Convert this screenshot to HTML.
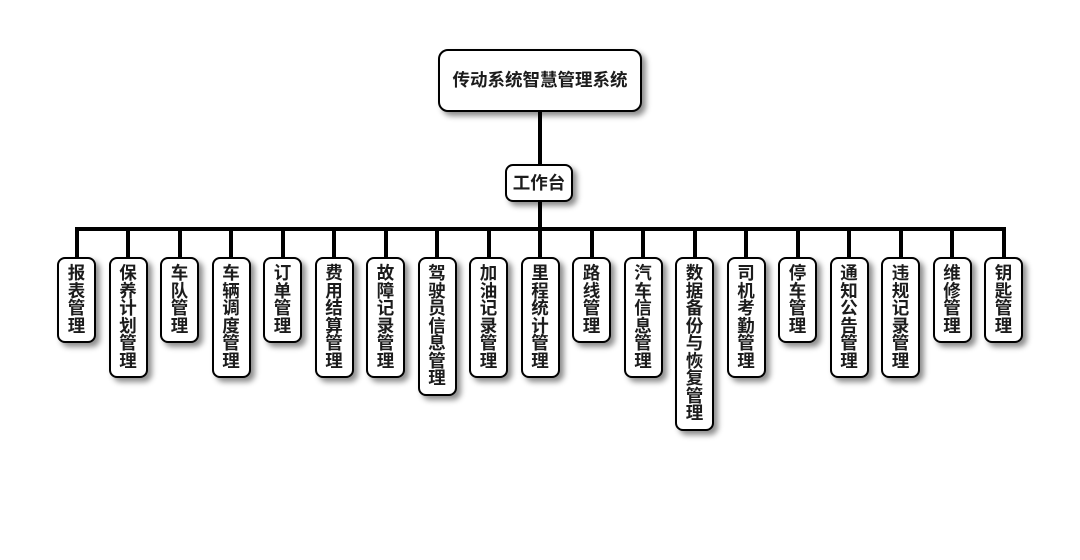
<!DOCTYPE html>
<html>
<head>
<meta charset="utf-8">
<style>
  html, body { margin:0; padding:0; background:#fff; }
  body { width:1080px; height:560px; position:relative; overflow:hidden;
         font-family:"Liberation Sans","Noto Sans CJK SC","WenQuanYi Zen Hei",sans-serif; }
  .ln { position:absolute; background:#000; }
  .box { position:absolute; box-sizing:border-box; border:2px solid #000; background:#fff;
         box-shadow:4px 4px 6px rgba(0,0,0,0.45); color:#1c1c1c; font-weight:bold;
         text-align:center; }
  .top { left:438px; top:49px; width:204px; height:63px; border-radius:10px;
         font-size:17.5px; line-height:59px; }
  .mid { left:505px; top:164px; width:68px; height:38px; border-radius:8px;
         font-size:17.5px; line-height:34px; }
  .leaf { top:257px; width:39px; border-radius:8px; font-size:17.5px; line-height:17.5px;
          padding:6px 0; }
</style>
</head>
<body>
<div class="ln" style="left:538px;top:110px;width:4px;height:56px;"></div>
<div class="ln" style="left:538px;top:200px;width:4px;height:30px;"></div>
<div class="ln" style="left:74.5px;top:227px;width:931px;height:4px;"></div>

<div class="box top">传动系统智慧管理系统</div>
<div class="box mid">工作台</div>

<div id="leaves"></div>

<div class="ln" style="left:74.5px;top:229px;width:4px;height:29px;"></div>
<div class="ln" style="left:126px;top:229px;width:4px;height:29px;"></div>
<div class="ln" style="left:177.5px;top:229px;width:4px;height:29px;"></div>
<div class="ln" style="left:229px;top:229px;width:4px;height:29px;"></div>
<div class="ln" style="left:280.5px;top:229px;width:4px;height:29px;"></div>
<div class="ln" style="left:332px;top:229px;width:4px;height:29px;"></div>
<div class="ln" style="left:383.5px;top:229px;width:4px;height:29px;"></div>
<div class="ln" style="left:435px;top:229px;width:4px;height:29px;"></div>
<div class="ln" style="left:486.5px;top:229px;width:4px;height:29px;"></div>
<div class="ln" style="left:538px;top:229px;width:4px;height:29px;"></div>
<div class="ln" style="left:589.5px;top:229px;width:4px;height:29px;"></div>
<div class="ln" style="left:641px;top:229px;width:4px;height:29px;"></div>
<div class="ln" style="left:692.5px;top:229px;width:4px;height:29px;"></div>
<div class="ln" style="left:744px;top:229px;width:4px;height:29px;"></div>
<div class="ln" style="left:795.5px;top:229px;width:4px;height:29px;"></div>
<div class="ln" style="left:847px;top:229px;width:4px;height:29px;"></div>
<div class="ln" style="left:898.5px;top:229px;width:4px;height:29px;"></div>
<div class="ln" style="left:950px;top:229px;width:4px;height:29px;"></div>
<div class="ln" style="left:1001.5px;top:229px;width:4px;height:29px;"></div>

<div class="box leaf" style="left:57px;">报<br>表<br>管<br>理</div>
<div class="box leaf" style="left:108.5px;">保<br>养<br>计<br>划<br>管<br>理</div>
<div class="box leaf" style="left:160px;">车<br>队<br>管<br>理</div>
<div class="box leaf" style="left:211.5px;">车<br>辆<br>调<br>度<br>管<br>理</div>
<div class="box leaf" style="left:263px;">订<br>单<br>管<br>理</div>
<div class="box leaf" style="left:314.5px;">费<br>用<br>结<br>算<br>管<br>理</div>
<div class="box leaf" style="left:366px;">故<br>障<br>记<br>录<br>管<br>理</div>
<div class="box leaf" style="left:417.5px;">驾<br>驶<br>员<br>信<br>息<br>管<br>理</div>
<div class="box leaf" style="left:469px;">加<br>油<br>记<br>录<br>管<br>理</div>
<div class="box leaf" style="left:520.5px;">里<br>程<br>统<br>计<br>管<br>理</div>
<div class="box leaf" style="left:572px;">路<br>线<br>管<br>理</div>
<div class="box leaf" style="left:623.5px;">汽<br>车<br>信<br>息<br>管<br>理</div>
<div class="box leaf" style="left:675px;">数<br>据<br>备<br>份<br>与<br>恢<br>复<br>管<br>理</div>
<div class="box leaf" style="left:726.5px;">司<br>机<br>考<br>勤<br>管<br>理</div>
<div class="box leaf" style="left:778px;">停<br>车<br>管<br>理</div>
<div class="box leaf" style="left:829.5px;">通<br>知<br>公<br>告<br>管<br>理</div>
<div class="box leaf" style="left:881px;">违<br>规<br>记<br>录<br>管<br>理</div>
<div class="box leaf" style="left:932.5px;">维<br>修<br>管<br>理</div>
<div class="box leaf" style="left:984px;">钥<br>匙<br>管<br>理</div>
</body>
</html>
